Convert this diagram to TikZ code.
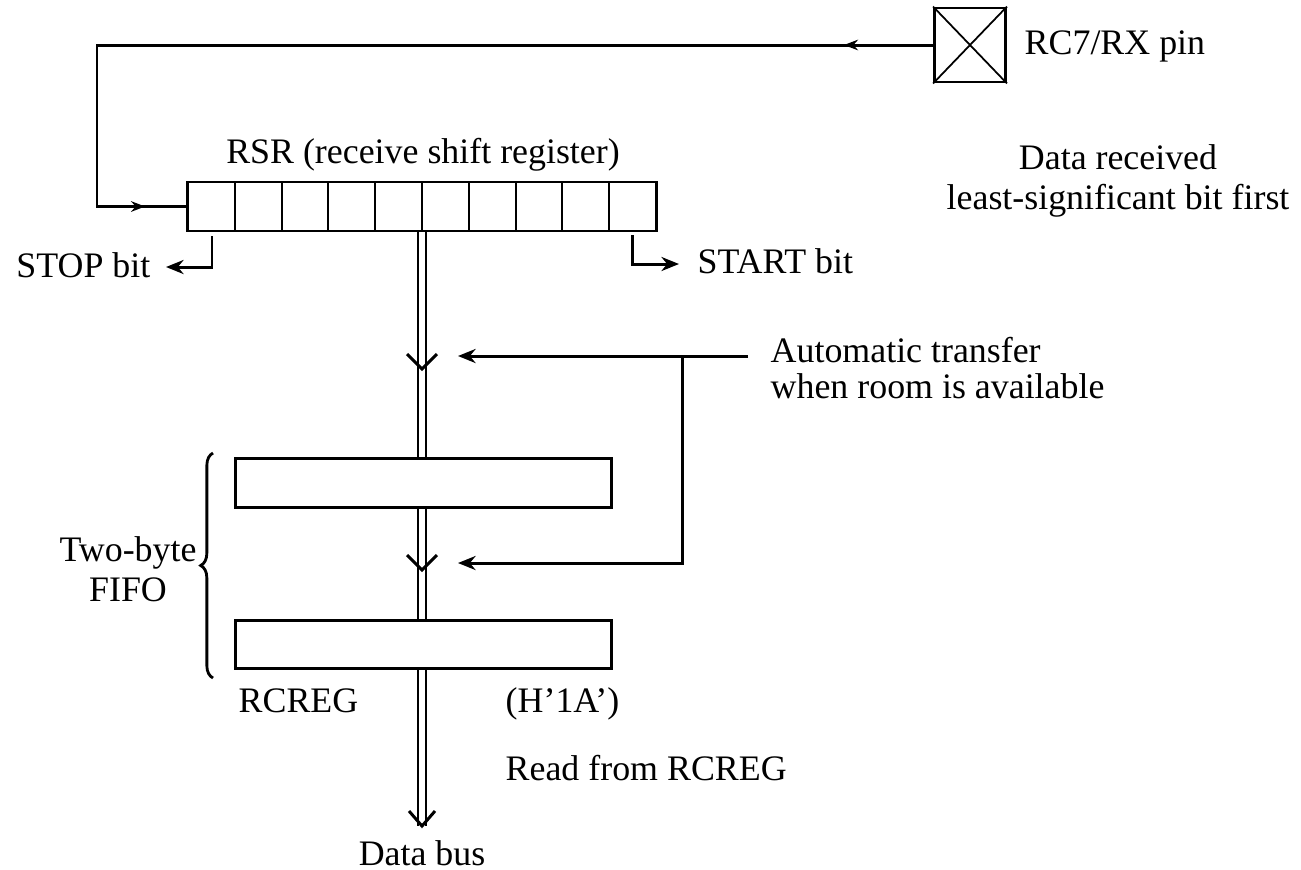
\documentclass[tikz,border=0pt]{standalone}
\usepackage{fontspec}
\setmainfont{Liberation Serif}
\usetikzlibrary{arrows.meta,decorations.pathreplacing,decorations.markings}
\begin{document}
\begin{tikzpicture}[x=0.01cm,y=-0.01cm,
  wire/.style={line width=0.85pt},
  box/.style={draw, line width=0.8pt, fill=white, inner sep=0},
  lbl/.style={inner sep=0, font=\fontsize{10.2}{11.4}\selectfont},
  tip/.style={-{Stealth[length=5pt,width=4pt]}},
  vmark/.style={line width=0.85pt}]
\useasboundingbox[fill=white] (0,0) rectangle (1301,869);

% RC7/RX pin
\node[box, minimum width=0.71cm, minimum height=0.74cm] (pin) at (970,45) {};
\draw[line width=0.5pt] (pin.north west) -- (pin.south east) (pin.north east) -- (pin.south west);
\node[lbl, anchor=base west] (pinlbl) at (1024,54) {RC7/RX pin};
\node[lbl, align=center] (lsb) at (1118,181) {Data received\\least-significant bit first};

% RSR
\node[lbl, anchor=base] (rsrlbl) at (423,163) {RSR (receive shift register)};
\node[box, minimum width=4.68cm, minimum height=0.49cm] (rsr) at (422,206.5) {};
\foreach \i in {1,...,9}
  \draw[line width=0.6pt] ({188+46.8*\i},182) -- ({188+46.8*\i},231);

% feed line
\draw[wire, postaction={decorate},
  decoration={markings,
    mark=at position 0.082 with {\arrow{Stealth[length=4pt,width=3pt]}},
    mark=at position 0.962 with {\arrow{Stealth[length=4pt,width=3pt]}}}]
  (pin.west) -- (97,45) |- (rsr.west);

% STOP / START
\coordinate (stopA) at (212,236);
\coordinate (stopB) at (166,267);
\node[lbl, anchor=base east] (stop) at (151,277) {STOP bit};
\draw[wire,tip] (stopA) |- (stopB);
\coordinate (startA) at (632,235);
\coordinate (startB) at (679,264);
\node[lbl, anchor=base west] (start) at (697,273) {START bit};
\draw[wire,tip] (startA) |- (startB);

% data bus
\coordinate (busEnd) at (422,826);
\draw[line width=0.7pt, double distance=1.6pt] (rsr.south) -- (busEnd);
\draw[vmark] (407,354) -- (422,369) -- (437,354);
\draw[vmark] (407,555) -- (422,570) -- (437,555);
\draw[vmark] (409,811) -- (422,826) -- (435,811);
\node[lbl, anchor=base] (db) at (422,865) {Data bus};

% FIFO
\node[box, minimum width=3.76cm, minimum height=0.49cm] (f1) at (423.5,483) {};
\node[box, minimum width=3.76cm, minimum height=0.48cm] (f2) at (423.5,644.5) {};
\draw[line width=0.8pt, decorate, decoration={brace, amplitude=3.5pt}] (213,678) -- (213,453);
\node[lbl, align=center] (fifo) at (128,569) {Two-byte\\FIFO};
\node[lbl, anchor=base west] (rcreg) at (238,712) {RCREG};
\node[lbl, anchor=base west] (addr) at (505,712) {(H'1A')};
\node[lbl, anchor=base west] (read) at (505,780) {Read from RCREG};

% automatic transfer
\node[lbl, align=left, anchor=west, font=\fontsize{10.2}{10.5}\selectfont] (auto) at (770,368) {Automatic transfer\\when room is available};
\coordinate (t1) at (748,356);
\coordinate (t2) at (682,356);
\draw[wire,tip] (t1) -- (458,356);
\draw[wire,tip] (t2) |- (458,563);
\end{tikzpicture}
\end{document}
